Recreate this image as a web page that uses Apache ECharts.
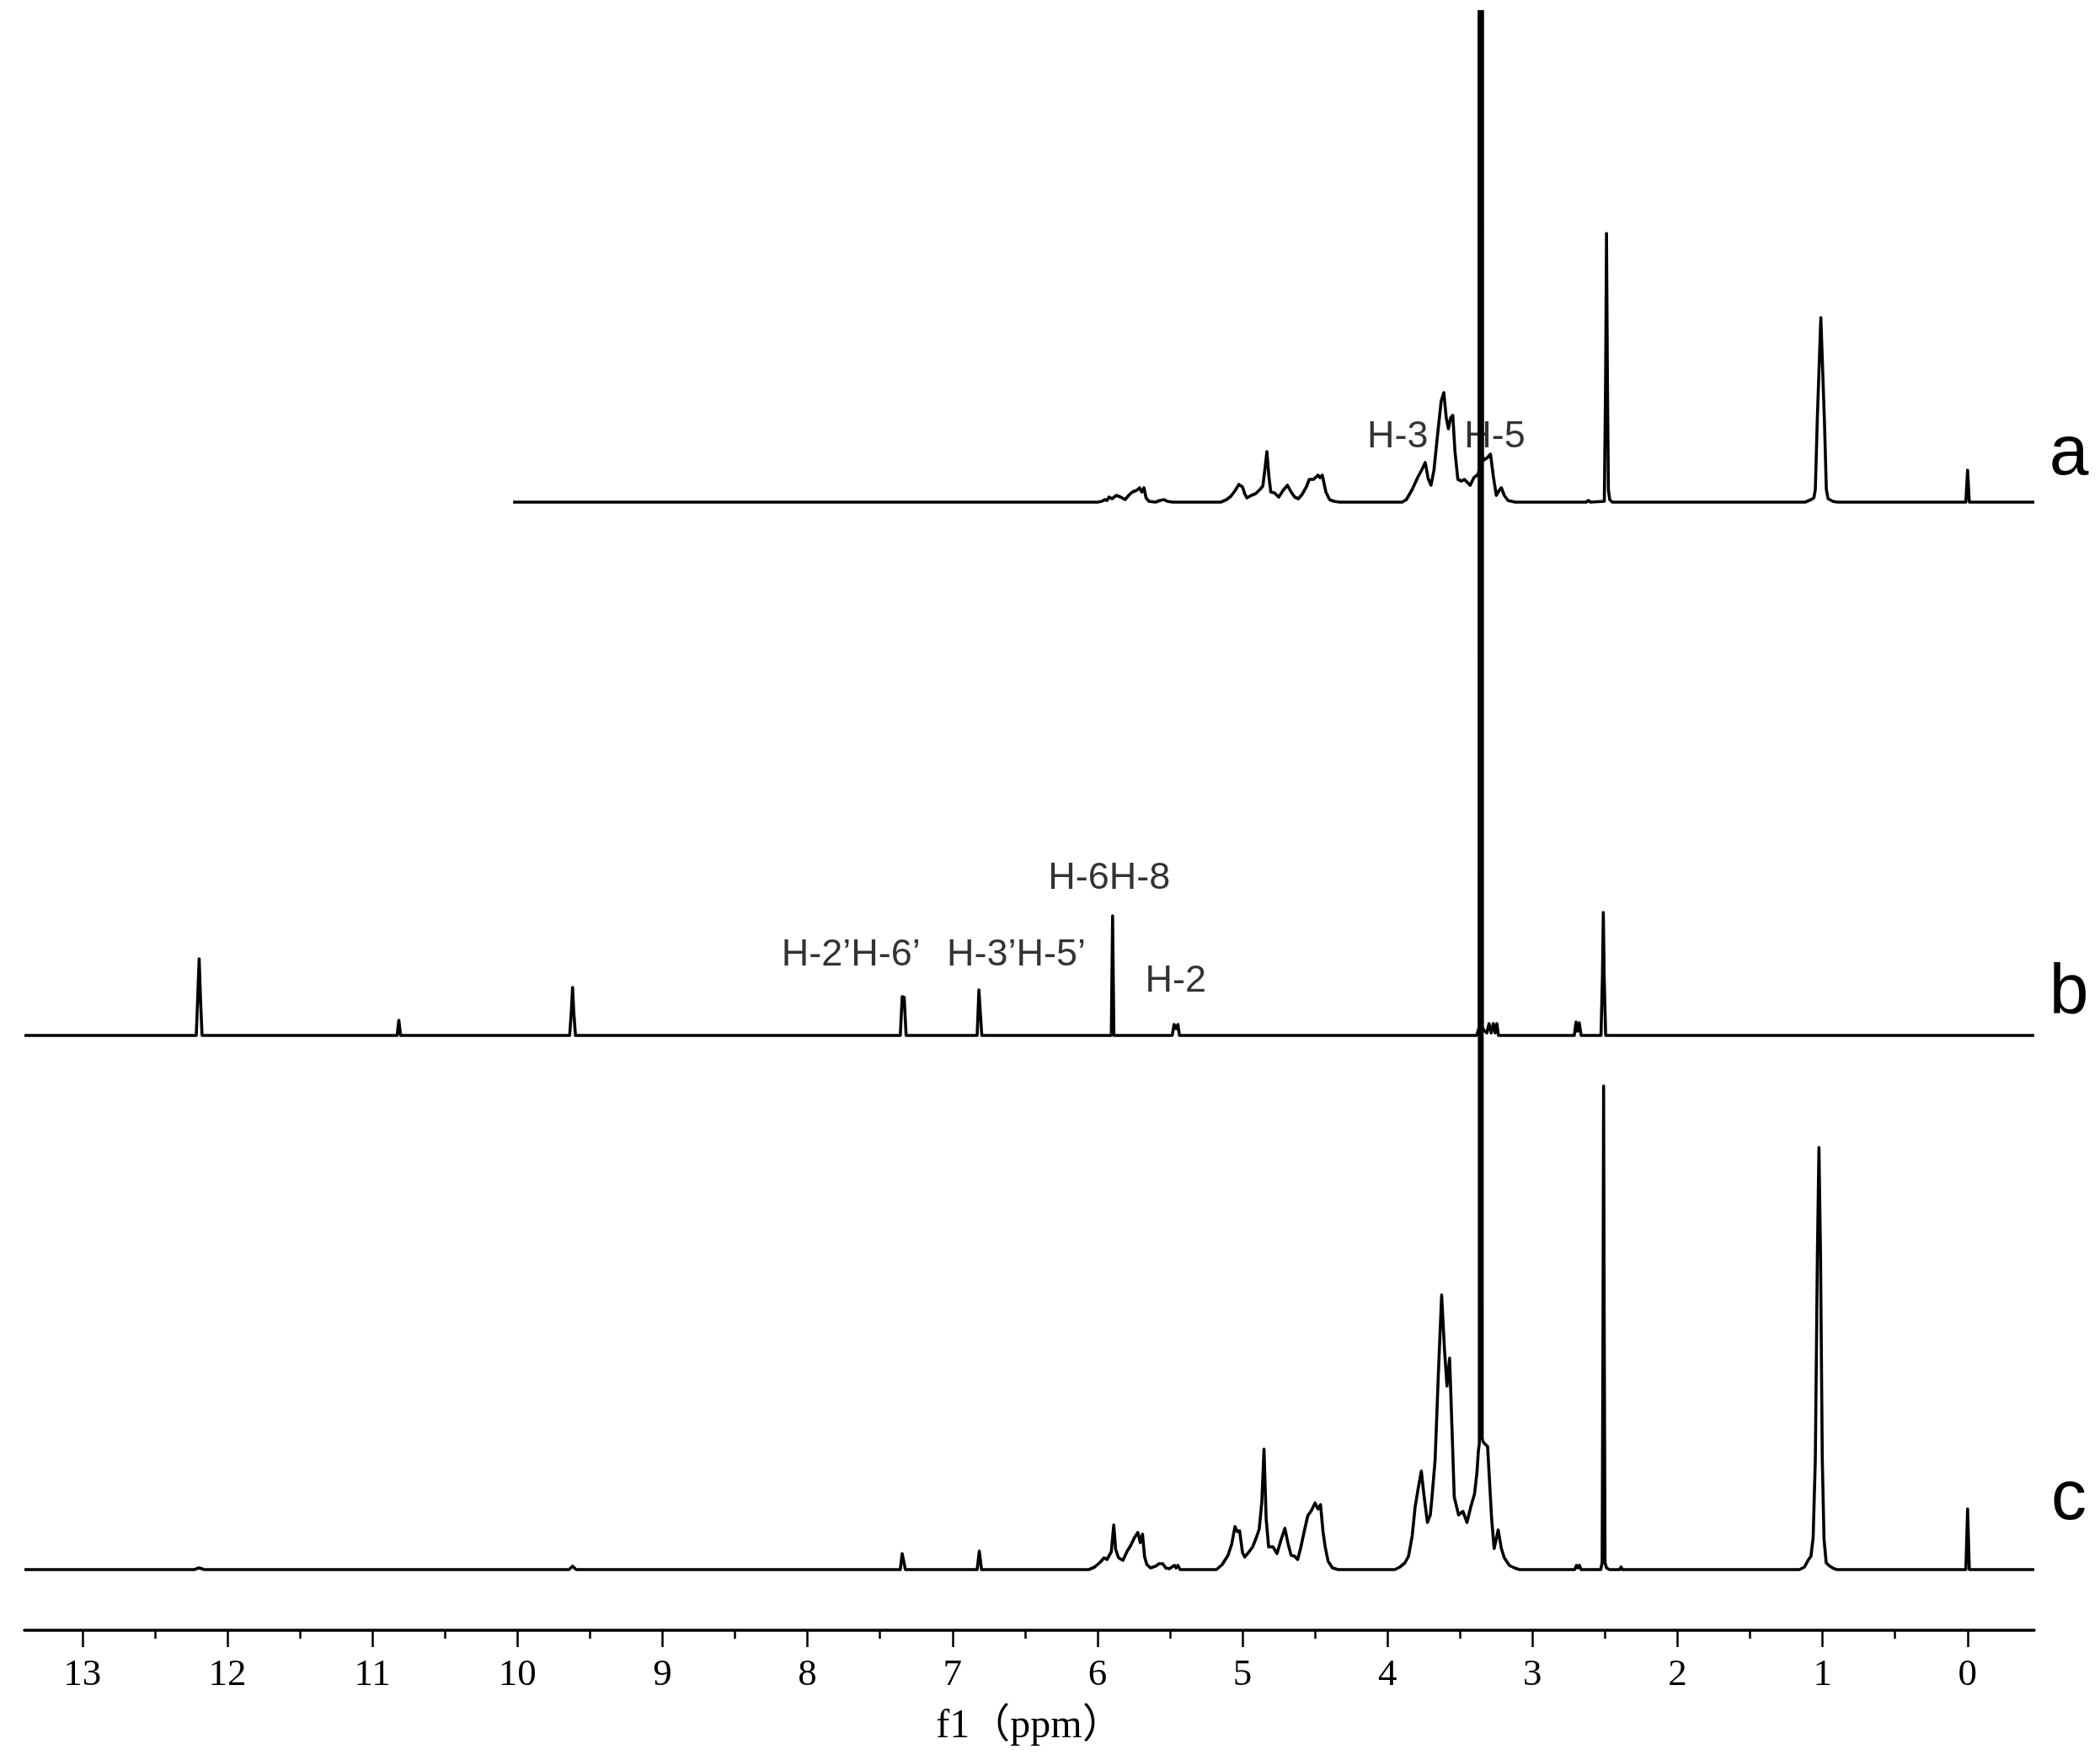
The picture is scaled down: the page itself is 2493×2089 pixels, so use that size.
<!DOCTYPE html>
<html>
<head>
<meta charset="utf-8">
<script src="https://cdn.jsdelivr.net/npm/echarts@6/dist/echarts.min.js"></script>
<style>
html,body{margin:0;padding:0;background:#fff;}
#chart{width:2493px;height:2089px;}
</style>
</head>
<body>
<div id="chart"></div>
<script>
// ---- axis (chemical shift, ppm) ----
const ppmMin = -0.46;
const ppmMax = 13.4;
const majorTicks = [0,1,2,3,4,5,6,7,8,9,10,11,12,13];
const minorTicks = [0.5,1.5,2.5,3.5,4.5,5.5,6.5,7.5,8.5,9.5,10.5,11.5,12.5];
const axisTitle = 'f1（ppm）';

// ---- spectra: [ppm, intensity] ----
const spectrumA = [
  [10.03,0],[6.0,0],[5.97,1],[5.95,3],[5.935,2],[5.92,6],[5.9,4],[5.87,8],[5.84,6],[5.81,3],[5.78,9],[5.76,12],[5.73,14],[5.71,17],[5.695,12],[5.68,17],[5.665,5],[5.645,1],[5.6,0],[5.57,2],[5.54,3],[5.52,1],[5.48,0],
  [5.15,0],[5.11,3],[5.08,7],[5.05,14],[5.025,21],[5.0,18],[4.985,10],[4.97,5],[4.94,8],[4.91,10],[4.88,15],[4.86,19],[4.845,40],[4.832,60],[4.818,30],[4.805,12],[4.78,11],[4.75,6],[4.72,14],[4.69,20],[4.665,12],[4.64,6],[4.615,4],[4.59,9],[4.56,18],[4.54,27],[4.51,27],[4.48,32],[4.465,29],[4.45,32],[4.425,12],[4.4,3],[4.37,1],[4.33,0],
  [3.9,0],[3.87,3],[3.83,15],[3.79,30],[3.765,38],[3.74,47],[3.72,28],[3.7,20],[3.68,38],[3.655,80],[3.63,120],[3.612,130],[3.595,100],[3.58,87],[3.565,100],[3.55,103],[3.535,60],[3.515,27],[3.49,25],[3.47,27],[3.43,20],[3.405,29],[3.39,31],[3.375,33],
  [3.367,40],[3.3665,4000],[3.3475,4000],[3.347,55],
  [3.335,50],[3.31,53],[3.29,57],[3.27,30],[3.25,8],[3.23,14],[3.215,17],[3.195,8],[3.17,2],[3.12,0],
  [2.63,0],[2.615,2],[2.6,0],[2.505,1],[2.496,150],[2.49,319],[2.484,150],[2.477,15],[2.468,3],[2.45,0],[2.395,0],[2.385,2],[2.375,0],
  [1.12,0],[1.08,3],[1.06,5],[1.05,15],[1.037,95],[1.022,170],[1.012,219],[1.002,170],[0.987,95],[0.974,15],[0.962,4],[0.93,1],[0.9,0],
  [0.012,0],[0.0,38],[-0.012,0],[-0.46,0]
];
const spectrumB = [
  [13.4,0],[12.215,0],[12.205,45],[12.195,91],[12.185,40],[12.175,0],
  [10.83,0],[10.818,18],[10.806,0],
  [9.64,0],[9.628,30],[9.62,57],[9.612,28],[9.6,0],
  [7.36,0],[7.347,46],[7.34,47],[7.333,45],[7.32,0],
  [6.83,0],[6.818,54],[6.81,53],[6.798,0],
  [5.905,0],[5.896,142],[5.887,0],
  [5.485,0],[5.472,13],[5.459,8],[5.446,13],[5.435,0],
  [3.385,0],[3.375,6],
  [3.367,10],[3.3665,4000],[3.3475,4000],[3.347,10],
  [3.335,6],[3.315,3],[3.3,14],[3.285,3],[3.27,14],[3.258,3],[3.246,14],[3.235,0],
  [2.712,0],[2.7,16],[2.69,5],[2.678,15],[2.665,0],
  [2.528,0],[2.518,70],[2.512,146],[2.506,70],[2.496,0],
  [-0.46,0]
];
const spectrumC = [
  [13.4,0],[12.23,0],[12.195,2],[12.16,0],
  [9.645,0],[9.62,4],[9.595,0],
  [7.36,0],[7.347,19],[7.338,18],[7.325,0],
  [6.83,0],[6.815,22],[6.8,0],
  [6.06,0],[6.02,3],[5.98,9],[5.955,14],[5.935,12],[5.905,21],[5.888,53],[5.875,24],[5.855,14],[5.825,11],[5.795,22],[5.77,29],[5.745,38],[5.722,44],[5.705,32],[5.69,42],[5.675,15],[5.66,6],[5.635,2],[5.6,4],[5.575,7],[5.55,7],[5.53,2],[5.505,1],[5.47,5],[5.458,2],[5.446,5],[5.43,0],
  [5.18,0],[5.14,6],[5.1,17],[5.075,30],[5.052,51],[5.035,45],[5.02,46],[5.0,20],[4.985,15],[4.96,20],[4.93,27],[4.905,38],[4.885,48],[4.867,80],[4.852,143],[4.837,60],[4.82,27],[4.79,27],[4.762,19],[4.735,35],[4.708,49],[4.685,30],[4.665,17],[4.642,16],[4.62,12],[4.6,25],[4.575,45],[4.55,64],[4.525,70],[4.5,79],[4.48,72],[4.462,77],[4.445,45],[4.43,27],[4.41,10],[4.38,2],[4.34,0],
  [3.95,0],[3.915,3],[3.88,8],[3.855,16],[3.83,40],[3.81,74],[3.79,95],[3.767,117],[3.75,90],[3.725,56],[3.705,65],[3.695,83],[3.672,130],[3.65,230],[3.627,326],[3.607,260],[3.59,218],[3.572,251],[3.556,170],[3.54,86],[3.51,65],[3.48,69],[3.452,56],[3.425,75],[3.4,90],[3.383,116],[3.374,140],
  [3.367,150],[3.3665,4000],[3.3475,4000],[3.347,155],
  [3.339,151],[3.31,146],[3.282,60],[3.265,25],[3.237,47],[3.215,25],[3.195,14],[3.16,5],[3.125,2],[3.09,0],
  [2.71,0],[2.697,5],[2.688,2],[2.677,5],[2.665,0],[2.628,0],[2.62,2],[2.612,0],
  [2.53,0],[2.52,8],[2.514,300],[2.51,574],[2.506,300],[2.5,8],[2.49,2],[2.47,0],
  [2.4,0],[2.39,3],[2.38,0],[2.095,0],[2.085,2],[2.075,0],
  [1.16,0],[1.125,3],[1.1,11],[1.08,16],[1.065,38],[1.05,131],[1.036,371],[1.025,501],[1.014,371],[1.002,131],[0.99,36],[0.975,8],[0.95,4],[0.92,1],[0.9,0],
  [0.012,0],[0.0,72],[-0.012,0],[-0.46,0]
];
const traceNames = ['a','b','c'];

// peak annotations: [ppm, height above its trace's baseline, text, trace]
const peakLabels = [
  [7.70, 95, 'H-2’H-6’', 'b'],
  [6.56, 95, 'H-3’H-5’', 'b'],
  [5.92, 186, 'H-6H-8', 'b'],
  [5.46, 64, 'H-2', 'b'],
  [3.93, 77, 'H-3', 'a'],
  [3.26, 77, 'H-5', 'a']
];

// ---- layout (vertical stacking of the traces) ----
const yTop = 1921;
const traceOffset = { a: 1339, b: 706, c: 72 };
const traceLabelY = { a: 540, b: 1180, c: 1780 };
const traceData = { a: spectrumA, b: spectrumB, c: spectrumC };

const chart = echarts.init(document.getElementById('chart'), null, { renderer: 'canvas' });

const lineSeries = traceNames.map(n => ({
  type: 'line',
  name: n,
  xAxisIndex: 0,
  yAxisIndex: 0,
  data: traceData[n].map(p => [p[0], p[1] + traceOffset[n]]),
  showSymbol: false,
  symbol: 'none',
  smooth: false,
  sampling: null,
  clip: true,
  z: 3,
  lineStyle: { color: '#000', width: 3.6, join: 'round' },
  emphasis: { disabled: true },
  silent: true
}));

const labelSeries = {
  type: 'scatter',
  xAxisIndex: 0,
  yAxisIndex: 0,
  symbolSize: 0,
  z: 1,
  silent: true,
  data: peakLabels.map(l => ({ value: [l[0], l[1] + traceOffset[l[3]]], name: l[2] })),
  label: {
    show: true,
    position: 'inside',
    formatter: '{b}',
    color: '#000',
    fontFamily: '"Liberation Sans", Arial, sans-serif',
    fontSize: 45
  }
};

const option = {
  backgroundColor: '#fff',
  animation: false,
  grid: { left: 29, right: 78, top: 14, bottom: 154, containLabel: false, outerBoundsMode: 'none' },
  xAxis: [
    {
      type: 'value',
      min: ppmMin,
      max: ppmMax,
      inverse: true,
      position: 'bottom',
      name: axisTitle,
      nameLocation: 'middle',
      nameGap: 90,
      nameTextStyle: { color: '#000', fontSize: 48, fontFamily: '"Liberation Serif", "Noto Sans CJK SC", serif' },
      axisLine: { show: true, onZero: false, lineStyle: { color: '#000', width: 3.5 } },
      axisTick: { show: true, inside: false, length: 20, customValues: majorTicks, lineStyle: { color: '#000', width: 2.5 } },
      axisLabel: { show: true, customValues: majorTicks, margin: 31, color: '#000', fontSize: 45, fontFamily: '"Liberation Serif", serif' },
      splitLine: { show: false }
    },
    {
      type: 'value',
      min: ppmMin,
      max: ppmMax,
      inverse: true,
      position: 'bottom',
      axisLine: { show: false, onZero: false },
      axisTick: { show: true, inside: false, length: 10, customValues: minorTicks, lineStyle: { color: '#000', width: 2.5 } },
      axisLabel: { show: false, customValues: minorTicks },
      splitLine: { show: false }
    }
  ],
  yAxis: { type: 'value', min: 0, max: yTop, show: false, splitLine: { show: false } },
  graphic: traceNames.map(n => ({
    type: 'text',
    x: 2456,
    y: traceLabelY[n],
    silent: true,
    style: {
      text: n,
      fill: '#000',
      font: '84px "Liberation Sans", Arial, sans-serif',
      textAlign: 'center',
      textVerticalAlign: 'middle',
      verticalAlign: 'middle'
    }
  })),
  series: lineSeries.concat([labelSeries])
};

chart.setOption(option);
</script>
</body>
</html>
